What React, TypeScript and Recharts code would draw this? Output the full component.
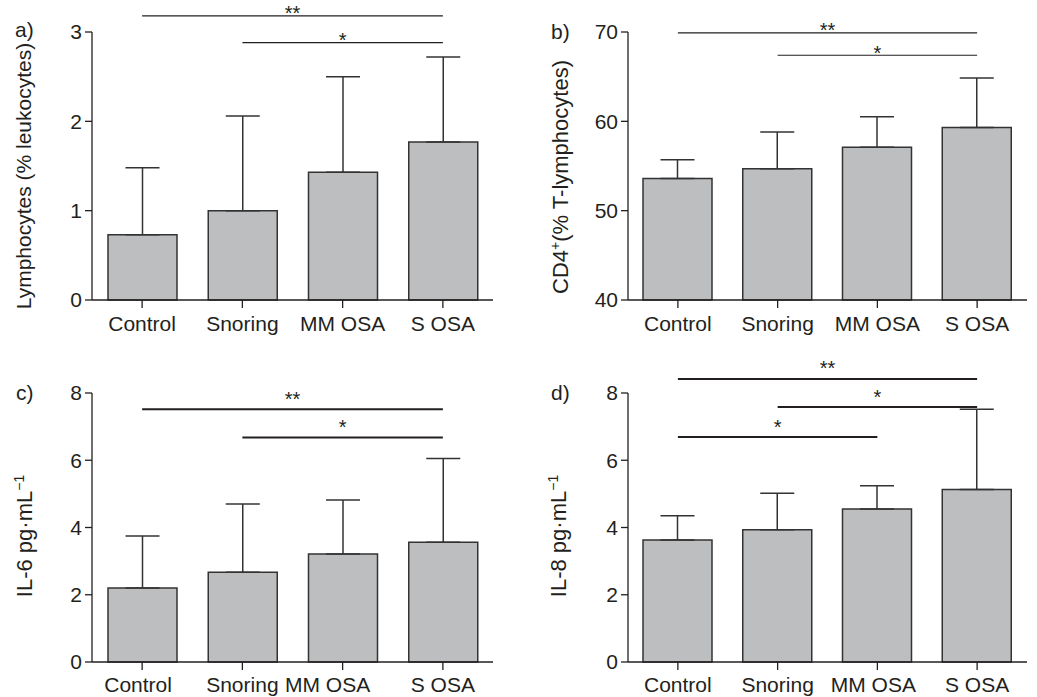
import React from "react";
import { BarChart, Bar, XAxis, YAxis, ErrorBar, ReferenceLine } from "recharts";

const groups = ["Control", "Snoring", "MM OSA", "S OSA"];

// a) lymphocytes, % of leukocytes
const lymphMean = [0.73, 1.0, 1.43, 1.77];
const lymphUpper = [1.48, 2.06, 2.5, 2.72];
const lymphTicks = [0, 1, 2, 3];

// b) CD4+, % of T-lymphocytes
const cd4Mean = [53.6, 54.7, 57.1, 59.3];
const cd4Upper = [55.7, 58.8, 60.5, 64.85];
const cd4Ticks = [40, 50, 60, 70];

// c) IL-6
const il6Mean = [2.2, 2.67, 3.21, 3.56];
const il6Upper = [3.75, 4.7, 4.82, 6.05];
const il6Ticks = [0, 2, 4, 6, 8];

// d) IL-8
const il8Mean = [3.63, 3.93, 4.55, 5.13];
const il8Upper = [4.35, 5.02, 5.24, 7.52];
const il8Ticks = [0, 2, 4, 6, 8];

// significance bars
const lymphSig = [
  { from: "Control", to: "S OSA", y: 3.18, mark: "**" },
  { from: "Snoring", to: "S OSA", y: 2.88, mark: "*" },
];
const cd4Sig = [
  { from: "Control", to: "S OSA", y: 69.9, mark: "**" },
  { from: "Snoring", to: "S OSA", y: 67.4, mark: "*" },
];
const il6Sig = [
  { from: "Control", to: "S OSA", y: 7.52, mark: "**" },
  { from: "Snoring", to: "S OSA", y: 6.68, mark: "*" },
];
const il8Sig = [
  { from: "Control", to: "S OSA", y: 8.42, mark: "**" },
  { from: "Snoring", to: "S OSA", y: 7.58, mark: "*" },
  { from: "Control", to: "MM OSA", y: 6.69, mark: "*" },
];

const INK = "#231f20";
const FONT = "'Liberation Sans', Arial, sans-serif";

function StarLabel(props: any) {
  const { viewBox, mark, lift } = props;
  if (!viewBox) return null;
  const cx = viewBox.x + viewBox.width / 2;
  return (
    <text x={cx} y={viewBox.y - lift + 11.5} textAnchor="middle" fontSize={20} fill={INK} fontFamily={FONT}>
      {mark}
    </text>
  );
}

function AxisTitle(props: any) {
  const { tx, ty, size, main, sup, rest } = props;
  return (
    <text
      transform={`translate(${tx},${ty}) rotate(-90)`}
      textAnchor="middle"
      fontSize={size}
      fill={INK}
      fontFamily={FONT}
    >
      {main}
      {sup && (
        <tspan dy={-8} fontSize={14}>
          {sup}
        </tspan>
      )}
      {rest && <tspan dy={8}>{rest}</tspan>}
    </text>
  );
}

function GroupTick(props: any) {
  const { x, y, payload, shift } = props;
  const dx = (shift && shift[payload.value]) || 0;
  return (
    <text x={x + dx} y={y} dy="0.71em" textAnchor="middle" fontSize={21} fill={INK} fontFamily={FONT}>
      {payload.value}
    </text>
  );
}

function Panel(p: any) {
  const data = groups.map((g, i) => ({ group: g, mean: p.mean[i], err: [0, p.upper[i] - p.mean[i]] }));
  const ticks = p.ticks;
  return (
    <div style={{ position: "absolute", left: p.left, top: p.top, width: p.w, height: p.h }}>
      <BarChart width={p.w} height={p.h} data={data} margin={p.margin} barSize={69}>
        <XAxis
          dataKey="group"
          interval={0}
          height={30}
          tickSize={8}
          tickMargin={p.xMargin}
          axisLine={{ stroke: INK, strokeWidth: 1.3 }}
          tickLine={{ stroke: INK, strokeWidth: 1.3 }}
          tick={<GroupTick shift={p.shift} />}
        />
        <YAxis
          type="number"
          width={60}
          domain={[ticks[0], ticks[ticks.length - 1]]}
          ticks={ticks}
          interval={0}
          tickSize={7}
          tickMargin={3}
          axisLine={{ stroke: INK, strokeWidth: 1.3 }}
          tickLine={{ stroke: INK, strokeWidth: 1.3 }}
          tick={{ fontSize: 21, fill: INK, fontFamily: FONT }}
          label={<AxisTitle {...p.title} />}
        />
        <Bar dataKey="mean" fill="#bcbec0" stroke="#333" strokeWidth={1.5} isAnimationActive={false}>
          <ErrorBar dataKey="err" direction="y" width={17} stroke="#333" strokeWidth={1.5} isAnimationActive={false} />
        </Bar>
        {p.sig.map((s: any, i: number) => (
          <ReferenceLine
            key={i}
            segment={[
              { x: s.from, y: s.y },
              { x: s.to, y: s.y },
            ]}
            ifOverflow="visible"
            stroke={INK}
            strokeWidth={p.sigWidth}
            label={<StarLabel mark={s.mark} lift={p.lift} />}
          />
        ))}
      </BarChart>
      <div
        style={{
          position: "absolute",
          left: p.letterX,
          top: p.letterY,
          fontSize: 21,
          fontFamily: FONT,
          color: INK,
          lineHeight: 1,
        }}
      >
        {p.letter}
      </div>
    </div>
  );
}

export default function App() {
  return (
    <div style={{ position: "absolute", left: 0, top: 0, width: 1037, height: 697, background: "#fff" }}>
      <Panel
        left={0}
        top={0}
        w={520}
        h={340}
        margin={{ top: 32, right: 27, bottom: 10, left: 32 }}
        mean={lymphMean}
        upper={lymphUpper}
        ticks={lymphTicks}
        sig={lymphSig}
        sigWidth={1.2}
        lift={7}
        xMargin={8}
        letter="a)"
        letterX={15}
        letterY={19}
        title={{ tx: 31, ty: 176, size: 21, main: "Lymphocytes (% leukocytes)" }}
      />
      <Panel
        left={520}
        top={0}
        w={517}
        h={340}
        margin={{ top: 32, right: 10, bottom: 10, left: 48 }}
        mean={cd4Mean}
        upper={cd4Upper}
        ticks={cd4Ticks}
        sig={cd4Sig}
        sigWidth={1.2}
        lift={7}
        xMargin={8}
        letter="b)"
        letterX={31}
        letterY={21}
        title={{ tx: 48, ty: 177, size: 22, main: "CD4", sup: "+", rest: "(% T-lymphocytes)" }}
      />
      <Panel
        left={0}
        top={340}
        w={520}
        h={357}
        margin={{ top: 53, right: 27, bottom: 5, left: 32 }}
        mean={il6Mean}
        upper={il6Upper}
        ticks={il6Ticks}
        sig={il6Sig}
        sigWidth={2}
        lift={15}
        xMargin={7}
        shift={{ "MM OSA": -15, Control: -4 }}
        letter="c)"
        letterX={16}
        letterY={42}
        title={{ tx: 32, ty: 196, size: 22, main: "IL-6 pg·mL", sup: "−1" }}
      />
      <Panel
        left={520}
        top={340}
        w={517}
        h={357}
        margin={{ top: 53, right: 10, bottom: 5, left: 48 }}
        mean={il8Mean}
        upper={il8Upper}
        ticks={il8Ticks}
        sig={il8Sig}
        sigWidth={2}
        lift={15}
        xMargin={7}
        shift={{ "MM OSA": -4 }}
        letter="d)"
        letterX={31}
        letterY={42}
        title={{ tx: 46, ty: 196, size: 22, main: "IL-8 pg·mL", sup: "−1" }}
      />
    </div>
  );
}
